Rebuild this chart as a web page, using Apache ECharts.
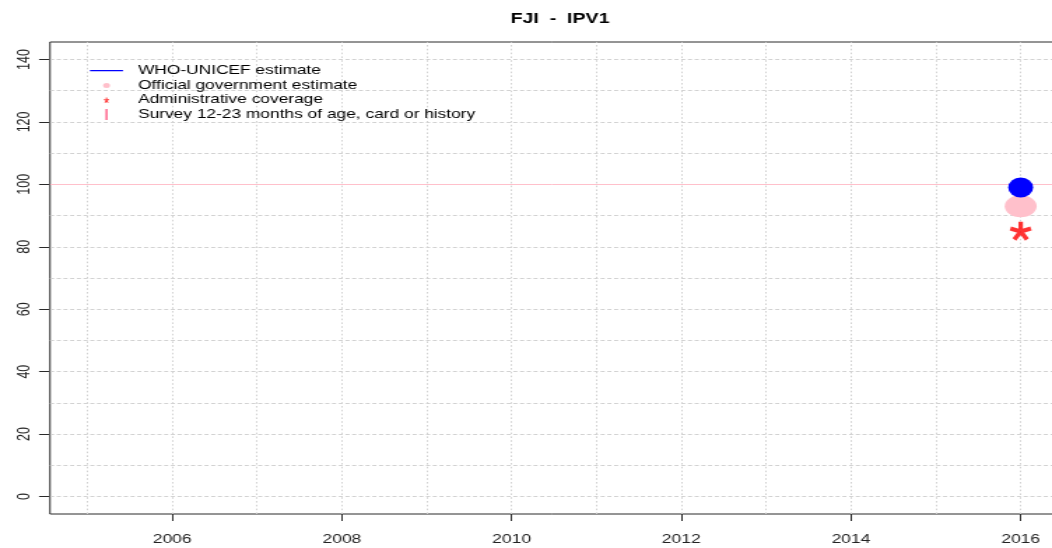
<!DOCTYPE html>
<html>
<head>
<meta charset="utf-8">
<script src="https://cdn.jsdelivr.net/npm/echarts@6/dist/echarts.min.js"></script>
<style>
html,body{margin:0;padding:0;background:#fff;overflow:hidden}
#wrap{width:1052px;height:548px;overflow:hidden}
#c{width:752px;height:548px;transform:scaleX(1.398936);transform-origin:0 0}
</style>
</head>
<body>
<div id="wrap"><div id="c"></div></div>
<script>
var chartTitle = 'FJI  -  IPV1';
var seriesNames = ['WHO-UNICEF estimate', 'Official government estimate', 'Administrative coverage', 'Survey 12-23 months of age, card or history'];
var years = [2016];
var whoUnicef = [99];
var official = [93];
var administrative = [85];
var survey = [];
var xTickLabels = [2006, 2008, 2010, 2012, 2014, 2016];
var yTickLabels = [0, 20, 40, 60, 80, 100, 120, 140];
var xGridYears = [2005, 2006, 2007, 2008, 2009, 2010, 2011, 2012, 2013, 2014, 2015, 2016];
var yGridValues = [0, 10, 20, 30, 40, 50, 60, 70, 80, 90, 100, 110, 120, 130, 140];
var refLine = 100;

var S = 1052 / 752; // horizontal stretch applied by CSS

function starPath(cx, cy, rx, ry, w) {
  var angles = [-90, -18, 54, 126, 198], d = '';
  angles.forEach(function (a) {
    var r = a * Math.PI / 180, c = Math.cos(r), s = Math.sin(r);
    var px = -s * w, py = c * w;
    var pts = [[px, py], [rx * c + px, ry * s + py], [rx * c - px, ry * s - py], [-px, -py]];
    d += 'M' + pts.map(function (p) { return (p[0] + cx).toFixed(3) + ',' + (p[1] + cy).toFixed(3); }).join('L') + 'Z';
  });
  return d;
}
var IW = 33 / S, IH = 11;
function icon(inner) {
  return 'path://M0,0L0.01,0L0,0.01Z M' + IW.toFixed(3) + ',' + IH + 'L' + (IW - 0.01).toFixed(3) + ',' + IH + 'L' + IW.toFixed(3) + ',' + (IH - 0.01) + 'Z ' + inner;
}
var cx = IW / 2, cy = IH / 2;
var iconLine = icon('M0,' + (cy - 0.6) + 'h' + IW.toFixed(3) + 'v1.3h-' + IW.toFixed(3) + 'z');
var iconDot = icon('M' + (cx - 2.5) + ',' + (cy + 0.3) + 'A2.5,2.5,0,1,0,' + (cx + 2.5) + ',' + (cy + 0.3) + 'A2.5,2.5,0,1,0,' + (cx - 2.5) + ',' + (cy + 0.3) + 'Z');
var iconStar = icon(starPath(cx, cy + 0.5, 1.9, 3, 0.45));
var iconBar = icon('M' + (cx - 0.7) + ',0h1.4v' + IH + 'h-1.4z');
var markerStar = 'path://' + starPath(10, 10, 10, 10, 2.1);

function pairs(xs, ys) { return xs.map(function (x, i) { return [x, ys[i]]; }); }

var font = 'Liberation Sans, Arial, sans-serif';
var hGrid = { color: '#d2d2d2', type: [2.9, 1.9], width: 1 };
var vGrid = { color: '#d2d2d2', type: [1.6, 2.2], width: 1 };

var chart = echarts.init(document.getElementById('c'));
chart.setOption({
  animation: false,
  title: { text: chartTitle, left: 553 / S, top: 7, textAlign: 'center',
    textStyle: { fontFamily: font, fontSize: 14, fontWeight: 'bold', color: '#000' } },
  grid: { left: 50 / S, top: 42, width: 1008 / S, height: 472, show: true, borderColor: '#2a2a2a', borderWidth: 1,
    containLabel: false, outerBoundsMode: 'none' },
  legend: {
    orient: 'vertical', left: 90 / S, top: 64.5, itemWidth: IW, itemHeight: IH, itemGap: 2.7, padding: 0,
    selectedMode: false,
    textStyle: { fontFamily: font, fontSize: 12.4, color: '#000', padding: [0, 0, 0, 138 / S - 90 / S - IW - 5], lineHeight: 11 },
    data: [
      { name: seriesNames[0], icon: iconLine, itemStyle: { color: '#0000ff' } },
      { name: seriesNames[1], icon: iconDot, itemStyle: { color: '#ffc0cb' } },
      { name: seriesNames[2], icon: iconStar, itemStyle: { color: '#ff0000' } },
      { name: seriesNames[3], icon: iconBar, itemStyle: { color: '#ff3366' } }
    ]
  },
  xAxis: {
    type: 'value', min: 2004.56, max: 2016.44,
    axisLine: { show: false, onZero: false },
    axisTick: { show: true, customValues: xTickLabels, length: 7, lineStyle: { color: '#2a2a2a' } },
    axisLabel: { customValues: xTickLabels, margin: 19, fontFamily: font, fontSize: 12.5, color: '#222',
      formatter: function (v) { return String(v); } },
    splitLine: { show: false }
  },
  yAxis: {
    type: 'value', min: -5.6, max: 145.6,
    axisLine: { show: false, onZero: false },
    axisTick: { show: true, customValues: yTickLabels, length: 11 / S, lineStyle: { color: '#2a2a2a' } },
    axisLabel: { customValues: yTickLabels, rotate: 90, margin: 12, fontFamily: font, fontSize: 12.5, color: '#222',
      formatter: function (v) { return String(v); } },
    splitLine: { show: false }
  },
  series: [
    { name: 'grid', type: 'line', data: [], silent: true, z: 1,
      markLine: { silent: true, z: 1, symbol: 'none', label: { show: false }, animation: false,
        data: xGridYears.map(function (v) { return { xAxis: v, lineStyle: vGrid }; }).concat(
              yGridValues.filter(function (v) { return v !== refLine; }).map(function (v) { return { yAxis: v, lineStyle: hGrid }; })) } },
    { name: 'ref', type: 'line', data: [], silent: true, z: 1,
      markLine: { silent: true, z: 2, symbol: 'none', label: { show: false }, animation: false,
        lineStyle: { color: '#ffc0cb', type: 'solid', width: 1 }, data: [{ yAxis: refLine }] } },
    { name: seriesNames[3], type: 'scatter', data: survey, itemStyle: { color: '#ff3366' } },
    { name: seriesNames[2], type: 'scatter', data: pairs(years, administrative), symbol: markerStar, symbolSize: [22 / S, 19],
      itemStyle: { color: '#ff0000' }, z: 6 },
    { name: seriesNames[1], type: 'scatter', data: pairs(years, official), symbol: 'circle', symbolSize: [32 / S, 22],
      itemStyle: { color: '#ffc0cb', opacity: 1 }, z: 6 },
    { name: seriesNames[0], type: 'scatter', data: pairs(years, whoUnicef), symbol: 'circle', symbolSize: [25 / S, 20],
      itemStyle: { color: '#0000ff', opacity: 1 }, z: 7 }
  ]
});
</script>
</body>
</html>
